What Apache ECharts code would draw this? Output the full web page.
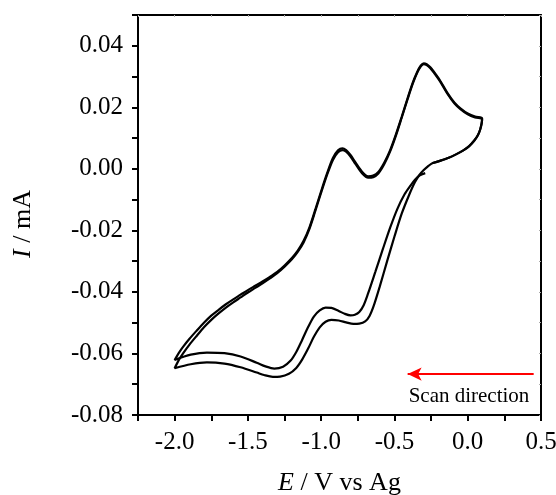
<!DOCTYPE html>
<html lang="en">

<head>
  <meta charset="UTF-8">
  <title>CV</title>
  <style>
    html, body { margin: 0; padding: 0; background: #fff; }
    #cv { width: 556px; height: 495px; }
  </style>
</head>

<body>
  <div id="cv"></div>
  <script src="https://cdn.jsdelivr.net/npm/echarts@6/dist/echarts.min.js"></script>
  <script>
    // potential E (V vs Ag), current I (mA)
    // cycle 1: starts at -0.29 V, scans negative
    var lowerScan1 = [
      [-0.29, -0.0014], [-0.33, -0.0022], [-0.36, -0.0035], [-0.39, -0.0054],
      [-0.43, -0.0082], [-0.48, -0.0130], [-0.53, -0.0192], [-0.58, -0.0262],
      [-0.63, -0.0334], [-0.68, -0.0405], [-0.71, -0.0443], [-0.74, -0.0465],
      [-0.77, -0.0474], [-0.80, -0.0476], [-0.84, -0.0471], [-0.88, -0.0462],
      [-0.93, -0.0452], [-0.97, -0.0451], [-1.01, -0.0460], [-1.05, -0.0480],
      [-1.09, -0.0515], [-1.13, -0.0556], [-1.17, -0.0595], [-1.21, -0.0624],
      [-1.26, -0.0643], [-1.32, -0.0649], [-1.38, -0.0642], [-1.44, -0.0630],
      [-1.55, -0.0610], [-1.66, -0.0599], [-1.78, -0.0597], [-1.89, -0.0604],
      [-2.00, -0.0621]
    ];
    var upperScan1 = [
      [-2.00, -0.0621], [-1.97, -0.0597], [-1.94, -0.0577], [-1.90, -0.0553],
      [-1.85, -0.0526], [-1.80, -0.0500], [-1.75, -0.0477], [-1.70, -0.0458],
      [-1.65, -0.0440], [-1.60, -0.0424], [-1.55, -0.0409], [-1.50, -0.0394],
      [-1.45, -0.0380], [-1.40, -0.0366], [-1.35, -0.0351], [-1.30, -0.0335],
      [-1.25, -0.0314], [-1.20, -0.0290], [-1.16, -0.0266], [-1.12, -0.0234],
      [-1.08, -0.0190], [-1.04, -0.0132], [-1.00, -0.0072], [-0.96, -0.0015],
      [-0.92, 0.0035], [-0.885, 0.0060], [-0.855, 0.0067], [-0.83, 0.0061],
      [-0.80, 0.0045], [-0.765, 0.0020], [-0.72, -0.0010], [-0.68, -0.0024],
      [-0.645, -0.0022], [-0.61, -0.0010], [-0.57, 0.0020], [-0.53, 0.0060],
      [-0.49, 0.0112], [-0.45, 0.0170], [-0.41, 0.0230], [-0.375, 0.0280],
      [-0.345, 0.0315], [-0.32, 0.0336], [-0.30, 0.0343], [-0.28, 0.0340],
      [-0.255, 0.0330], [-0.23, 0.0315], [-0.19, 0.0288], [-0.14, 0.0248],
      [-0.09, 0.0215], [-0.05, 0.0197], [0.00, 0.0180], [0.05, 0.0170],
      [0.098, 0.0165]
    ];
    // vertex at +0.1 V back to about -0.24 V (both cycles)
    var returnScan = [
      [0.098, 0.0165], [0.095, 0.0148], [0.085, 0.0128], [0.07, 0.0110],
      [0.045, 0.0092], [0.01, 0.0074], [-0.03, 0.0060], [-0.08, 0.0047],
      [-0.13, 0.0036], [-0.19, 0.0026], [-0.244, 0.0018]
    ];
    // cycle 2
    var lowerScan2 = [
      [-0.244, 0.0018], [-0.27, 0.0009], [-0.30, -0.0004], [-0.33, -0.0020],
      [-0.36, -0.0043], [-0.40, -0.0085], [-0.45, -0.0145], [-0.50, -0.0220],
      [-0.55, -0.0300], [-0.60, -0.0382], [-0.64, -0.0443], [-0.67, -0.0478],
      [-0.70, -0.0496], [-0.74, -0.0503], [-0.78, -0.0504], [-0.83, -0.0499],
      [-0.88, -0.0493], [-0.93, -0.0491], [-0.97, -0.0497], [-1.01, -0.0515],
      [-1.05, -0.0546], [-1.09, -0.0585], [-1.13, -0.0620], [-1.17, -0.0647],
      [-1.22, -0.0666], [-1.28, -0.0675], [-1.33, -0.0676], [-1.39, -0.0670],
      [-1.44, -0.0662], [-1.55, -0.0645], [-1.66, -0.0633], [-1.78, -0.0629],
      [-1.89, -0.0635], [-2.00, -0.0648]
    ];
    var upperScan2 = [
      [-2.00, -0.0648], [-1.97, -0.0620], [-1.94, -0.0598], [-1.90, -0.0572],
      [-1.85, -0.0543], [-1.80, -0.0515], [-1.75, -0.0491], [-1.70, -0.0470],
      [-1.65, -0.0451], [-1.60, -0.0434], [-1.55, -0.0418], [-1.50, -0.0402],
      [-1.45, -0.0387], [-1.40, -0.0372], [-1.35, -0.0356], [-1.30, -0.0339],
      [-1.25, -0.0318], [-1.20, -0.0294], [-1.16, -0.0270], [-1.12, -0.0239],
      [-1.08, -0.0195], [-1.04, -0.0137], [-1.00, -0.0077], [-0.96, -0.0020],
      [-0.92, 0.0029], [-0.885, 0.0054], [-0.855, 0.0061], [-0.83, 0.0056],
      [-0.80, 0.0040], [-0.765, 0.0015], [-0.72, -0.0015], [-0.68, -0.0029],
      [-0.645, -0.0027], [-0.61, -0.0015], [-0.57, 0.0015], [-0.53, 0.0056],
      [-0.49, 0.0108], [-0.45, 0.0167], [-0.41, 0.0227], [-0.375, 0.0277],
      [-0.345, 0.0312], [-0.32, 0.0333], [-0.30, 0.0340], [-0.28, 0.0337],
      [-0.255, 0.0327], [-0.23, 0.0312], [-0.19, 0.0285], [-0.14, 0.0245],
      [-0.09, 0.0212], [-0.05, 0.0194], [0.00, 0.0177], [0.05, 0.0167],
      [0.098, 0.0162]
    ];
    // scan direction arrow (tail, head) in data units
    var arrowFrom = [0.45, -0.0667];
    var arrowTo = [-0.41, -0.0667];

    var cycle1 = lowerScan1.concat(upperScan1.slice(1), returnScan.slice(1));
    var cycle2 = lowerScan2.concat(upperScan2.slice(1), returnScan.slice(1));

    var font = 'Liberation Serif, Times New Roman, serif';
    var chart = echarts.init(document.getElementById('cv'));

    var curve = {
      type: 'line',
      smooth: 0.3,
      showSymbol: false,
      silent: true,
      animation: false,
      lineStyle: { color: '#000', width: 2.2 }
    };

    chart.setOption({
      animation: false,
      grid: { left: 138, right: 15, top: 15, bottom: 80, outerBoundsMode: 'none', containLabel: false },
      xAxis: [{
        type: 'value',
        min: -2.25,
        max: 0.5,
        interval: 0.25,
        name: '{i|E} / V vs Ag',
        nameLocation: 'middle',
        nameGap: 55,
        nameTextStyle: {
          fontFamily: font, fontSize: 26, color: '#000',
          rich: { i: { fontFamily: font, fontSize: 26, fontStyle: 'italic', color: '#000' } }
        },
        axisLine: { onZero: false, lineStyle: { color: '#000', width: 2 } },
        axisTick: { inside: false, length: 6, lineStyle: { color: '#000', width: 2 } },
        axisLabel: {
          fontFamily: font, fontSize: 25, color: '#000', margin: 15,
          formatter: function (v) {
            return Math.abs(Math.round(v * 4)) % 2 === 0 ? (Math.round(v * 10) / 10).toFixed(1) : '';
          }
        },
        splitLine: { show: false }
      }, {
        type: 'value',
        position: 'top',
        min: -2.25,
        max: 0.5,
        interval: 0.25,
        axisLine: { onZero: false, lineStyle: { color: '#000', width: 2 } },
        axisTick: { inside: true, length: 2, lineStyle: { color: '#aaa', width: 1 } },
        axisLabel: { show: false },
        splitLine: { show: false }
      }],
      yAxis: [{
        type: 'value',
        min: -0.08,
        max: 0.05,
        interval: 0.01,
        name: '{i|I} / mA',
        nameLocation: 'middle',
        nameGap: 102,
        nameTextStyle: {
          fontFamily: font, fontSize: 26, color: '#000',
          padding: [0, 18, 0, 0],
          rich: { i: { fontFamily: font, fontSize: 26, fontStyle: 'italic', color: '#000' } }
        },
        axisLine: { onZero: false, lineStyle: { color: '#000', width: 2 } },
        axisTick: { inside: false, length: 6, lineStyle: { color: '#000', width: 2 } },
        axisLabel: {
          fontFamily: font, fontSize: 25, color: '#000', margin: 15,
          formatter: function (v) {
            var n = Math.round(v * 100);
            return n % 2 === 0 ? (n / 100).toFixed(2) : '';
          }
        },
        splitLine: { show: false }
      }, {
        type: 'value',
        position: 'right',
        min: -0.08,
        max: 0.05,
        interval: 0.01,
        axisLine: { onZero: false, lineStyle: { color: '#000', width: 2 } },
        axisTick: { inside: true, length: 2, lineStyle: { color: '#aaa', width: 1 } },
        axisLabel: { show: false },
        splitLine: { show: false }
      }],
      series: [
        Object.assign({}, curve, {
          data: cycle1,
          markLine: {
            silent: true,
            animation: false,
            symbol: ['none', 'arrow'],
            symbolSize: [10, 14],
            label: { show: false },
            lineStyle: { color: '#ff0000', width: 2, type: 'solid' },
            data: [[{ coord: arrowFrom }, { coord: arrowTo }]]
          }
        }),
        Object.assign({}, curve, { data: cycle2 })
      ],
      graphic: [{
        type: 'text',
        x: 469,
        y: 396,
        style: {
          text: 'Scan direction',
          font: '21px ' + font,
          fill: '#000',
          textAlign: 'center',
          textVerticalAlign: 'middle'
        }
      }]
    });
  </script>
</body>

</html>
